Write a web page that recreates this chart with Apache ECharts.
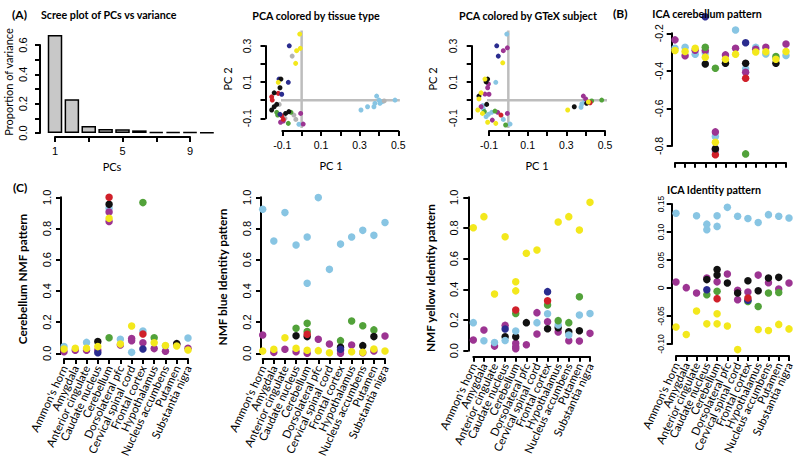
<!DOCTYPE html>
<html><head><meta charset="utf-8">
<script src="https://cdn.jsdelivr.net/npm/echarts@6/dist/echarts.min.js"></script>
<style>html,body{margin:0;padding:0;background:#fff}#c{width:800px;height:457px}</style>
</head><body><div id="c"></div>
<script>
// ---------------- DATA ----------------
const tissues = ["Ammon's horn","Amygdala","Anterior cingulate","Caudate nucleus","Cerebellum","Dorsolateral pfc","Cervical spinal cord","Frontal cortex","Hypothalamus","Nucleus accumbens","Putamen","Substantia nigra"];

const screePC = [1,2,3,4,5,6,7,8,9,10];
const screeVar = [0.668,0.23,0.048,0.027,0.025,0.018,0.008,0.007,0.006,0.005];
const screeLabelled = [1,5,9];

// PCA colored by tissue type  [PC1, PC2]
const pcaT_yellow = [[-0.01,0.366],[-0.026,0.274],[-0.007,0.287],[-0.031,0.204],[-0.121,0.099]];
const pcaT_navy = [[-0.064,0.301],[-0.117,0.117],[-0.069,0.099],[-0.103,0.033],[-0.112,-0.078]];
const pcaT_gray = [[-0.049,0.244],[-0.116,-0.023],[-0.04,-0.082],[-0.086,-0.1],[-0.03,-0.106],[0.427,-0.004]];
const pcaT_black = [[-0.107,0.117],[-0.112,0.069],[-0.142,0.041],[-0.129,-0.023],[-0.142,-0.036],[-0.155,-0.054],[-0.083,-0.073],[-0.066,-0.063]];
const pcaT_red = [[-0.121,0.038],[-0.155,0.019],[-0.152,0.001],[-0.103,-0.086],[-0.095,-0.106]];
const pcaT_green = [[-0.129,-0.067],[-0.124,-0.082],[-0.055,-0.067],[-0.069,-0.128]];
const pcaT_purple = [[-0.005,-0.073],[-0.109,-0.122],[-0.095,-0.115],[0.008,-0.132]];
const pcaT_lightblue = [[-0.014,-0.133],[0.307,-0.054],[0.341,-0.036],[0.374,-0.036],[0.379,-0.017],[0.388,0.023],[0.4,0.001],[0.405,-0.017],[0.417,-0.008],[0.483,0.001]];

// PCA colored by GTeX subject
const pcaG_lightblue = [[-0.008,0.366],[-0.065,0.099],[-0.133,-0.03],[-0.129,-0.049],[-0.103,-0.078],[-0.086,-0.067],[-0.115,-0.091],[-0.026,-0.106],[0.009,-0.132],[0.376,-0.039],[0.38,-0.021],[0.395,-0.008]];
const pcaG_navy = [[-0.06,0.301],[-0.052,0.244]];
const pcaG_purple = [[-0.005,0.29],[-0.026,0.274],[-0.103,0.09],[-0.107,0.069],[-0.121,0.034],[-0.1,0.033],[-0.141,-0.036],[-0.055,-0.067],[-0.005,-0.073],[-0.083,-0.11],[0.388,0.023],[0.4,0.007]];
const pcaG_yellow = [[-0.029,0.207],[-0.121,0.117],[-0.141,0.041],[-0.152,0.007],[-0.158,-0.054],[-0.134,-0.073],[-0.107,-0.122],[-0.065,-0.128],[0.307,-0.054],[0.414,-0.01]];
const pcaG_black = [[-0.107,0.117],[-0.115,0.102],[-0.152,0.023],[-0.112,-0.023],[0.341,-0.036],[0.405,-0.017]];
const pcaG_green = [[-0.124,-0.063],[-0.069,-0.06],[-0.014,-0.137],[0.431,-0.004],[0.483,0.001]];
const pcaG_red = [[-0.038,-0.082],[0.423,-0.014]];

// extents of the grey reference lines (plot region, data units)
const pcaT_hline = [-0.187, 0.508];
const pcaT_vline = [-0.153, 0.386];
const pcaG_hline = [-0.19, 0.515];
const pcaG_vline = [-0.153, 0.386];

// ICA cerebellum pattern  [tissue index (1-based), value]
const icaC_lightblue = [[1,-0.28],[2,-0.274],[3,-0.311],[4,-0.303],[5,-0.749],[5,-0.83],[7,-0.182],[8,-0.389],[9,-0.275],[10,-0.31],[11,-0.33],[12,-0.318]];
const icaC_purple = [[1,-0.235],[2,-0.319],[3,-0.29],[4,-0.292],[5,-0.725],[5,-0.819],[6,-0.315],[7,-0.28],[8,-0.407],[9,-0.285],[10,-0.274],[12,-0.257]];
const icaC_green = [[4,-0.274],[5,-0.386],[8,-0.842],[11,-0.324]];
const icaC_navy = [[4,-0.112],[8,-0.25]];
const icaC_red = [[5,-0.846],[8,-0.439]];
const icaC_black = [[4,-0.363],[5,-0.814],[6,-0.359],[8,-0.359],[11,-0.359]];
const icaC_yellow = [[1,-0.292],[2,-0.297],[3,-0.28],[4,-0.327],[5,-0.78],[6,-0.338],[7,-0.311],[9,-0.3],[10,-0.298],[11,-0.338],[12,-0.297]];

// ICA Identity pattern
const icaI_lightblue = [[1,0.1335],[3,0.129],[4,0.104],[4,0.114],[5,0.129],[5,0.11],[6,0.144],[7,0.128],[8,0.124],[9,0.117],[10,0.131],[11,0.128],[12,0.125]];
const icaI_purple = [[1,0.0107],[2,0.0006],[3,-0.009],[4,0.018],[5,0.011],[6,0.025],[7,-0.004],[7,-0.021],[8,-0.007],[9,0.023],[10,0.0095],[11,-0.002],[12,0.009]];
const icaI_black = [[4,0.015],[5,0.033],[5,0.023],[6,0.009],[7,-0.009],[8,0.013],[9,-0.005],[10,0.018],[11,0.019]];
const icaI_navy = [[4,-0.003],[8,-0.022]];
const icaI_green = [[4,-0.012],[5,-0.006],[8,-0.024],[9,-0.033],[10,-0.009],[11,-0.008]];
const icaI_red = [[5,-0.019],[8,-0.018]];
const icaI_yellow = [[1,-0.0696],[2,-0.083],[3,-0.041],[4,-0.064],[5,-0.046],[5,-0.064],[6,-0.068],[7,-0.11],[9,-0.074],[10,-0.076],[11,-0.065],[12,-0.073]];

// Cerebellum NMF pattern
const nmfC_lightblue = [[1,0.043],[3,0.07],[5,0.93],[6,0.09],[7,0.006],[8,0.143],[10,0.047],[12,0.098]];
const nmfC_purple = [[1,0.01],[2,0.02],[3,0.02],[4,0.02],[5,0.905],[5,0.845],[6,0.053],[7,0.095],[7,0.08],[8,0.068],[9,0.03],[10,0.013],[11,0.058],[12,0.032]];
const nmfC_green = [[5,0.1],[8,0.966],[9,0.1]];
const nmfC_black = [[4,0.075],[5,0.955],[11,0.062]];
const nmfC_navy = [[4,0.003],[8,0.028]];
const nmfC_red = [[5,1.0],[8,0.124]];
const nmfC_yellow = [[1,0.028],[2,0.032],[3,0.032],[4,0.043],[5,0.865],[6,0.06],[7,0.175],[9,0.068],[10,0.05],[11,0.047],[12,0.021]];

// NMF blue Identity pattern
const nmfB_lightblue = [[1,0.923],[2,0.72],[3,0.902],[4,0.694],[5,0.746],[5,0.449],[6,0.998],[7,0.538],[8,0.7],[9,0.746],[10,0.788],[11,0.756],[12,0.838]];
const nmfB_purple = [[1,0.117],[2,0.006],[3,0.026],[4,0.01],[5,0.0],[6,0.09],[7,0.06],[8,0.0],[8,0.017],[9,0.053],[10,0.003],[11,0.015],[12,0.111]];
const nmfB_green = [[4,0.16],[5,0.192],[5,0.14],[8,0.081],[9,0.207],[10,0.177],[11,0.15]];
const nmfB_black = [[4,0.113],[5,0.107],[8,0.038],[10,0.049],[11,0.107]];
const nmfB_navy = [[8,0.026]];
const nmfB_red = [[5,0.122]];
const nmfB_yellow = [[1,0.015],[2,0.026],[3,0.1],[4,0.032],[5,0.02],[6,0.017],[7,0.004],[9,0.01],[10,0.006],[11,0.028],[12,0.015]];

// NMF yellow Identity pattern
const nmfY_purple = [[1,0.07],[2,0.135],[3,0.03],[4,0.165],[5,0.048],[5,0.026],[5,0.013],[6,0.039],[7,0.248],[7,0.109],[8,0.189],[9,0.122],[10,0.065],[11,0.063],[12,0.113]];
const nmfY_black = [[4,0.091],[5,0.091],[6,0.183],[8,0.143],[9,0.15],[10,0.124],[11,0.13]];
const nmfY_lightblue = [[1,0.183],[2,0.065],[3,0.054],[4,0.067],[5,0.128],[7,0.183],[8,0.241],[9,0.167],[10,0.102],[11,0.233],[12,0.243]];
const nmfY_navy = [[4,0.141],[8,0.385]];
const nmfY_red = [[5,0.265],[8,0.326]];
const nmfY_green = [[5,0.243],[8,0.298],[9,0.196],[10,0.183],[11,0.352]];
const nmfY_yellow = [[1,0.802],[2,0.874],[3,0.37],[4,0.743],[5,0.45],[5,0.39],[6,0.635],[7,0.657],[9,0.839],[10,0.874],[11,0.787],[12,0.967]];

// ---------------- STYLE / LAYOUT ----------------
const COL = {lightblue:'#88c5e3', purple:'#9c3492', yellow:'#f3e81c', navy:'#2a2c8f', green:'#52a23a', red:'#d0202a', black:'#111111', gray:'#b3b3b3'};
const NUM_FONT = 'Liberation Sans';
const TXT_FONT = 'Lato';

const grids = [], xAxes = [], yAxes = [], series = [];

function axis(o) {
  const a = {
    type:o.cat ? 'category' : 'value', gridIndex:o.gi, offset:o.offset, position:o.pos,
    splitLine:{show:false},
    axisLine:{show:true, onZero:false, lineStyle:{color:'#000', width:2}},
    axisTick:{show:true, length:5, lineStyle:{color:'#000', width:2}},
    axisLabel:{show:o.labels !== false, formatter:o.fmt, rotate:o.rot || 0, margin:o.margin,
      fontSize:o.fs || 10.5, fontFamily:o.ff || NUM_FONT, color:'#000'}
  };
  if (o.cat) {
    a.data = o.cat; a.boundaryGap = false;
    a.axisLabel.interval = 0; a.axisTick.interval = 0;
  } else {
    a.min = o.min; a.max = o.max; a.interval = o.interval;
    a.axisLabel.showMinLabel = true; a.axisLabel.showMaxLabel = true;
  }
  return a;
}
function panel(g, xo, yo) {
  const gi = grids.length;
  grids.push({left:g.left, top:g.top, width:g.width, height:g.height, containLabel:false, outerBoundsMode:'none'});
  xAxes.push(axis(Object.assign({gi, pos:'bottom', offset:g.xOff}, xo)));
  yAxes.push(axis(Object.assign({gi, pos:'left', offset:g.yOff, rot:90}, yo)));
  return gi;
}
function scat(gi, data, color, size, isCat) {
  const d = isCat ? data.map(([t, v]) => [t - 1, v]) : data;
  series.push({type:'scatter', xAxisIndex:gi, yAxisIndex:gi, data:d, symbol:'circle', symbolSize:size,
    itemStyle:{color, opacity:1}, clip:false, silent:true});
}
function refLine(gi, data) {
  series.push({type:'line', xAxisIndex:gi, yAxisIndex:gi, data, symbol:'none', clip:false, silent:true,
    lineStyle:{color:'#bdbdbd', width:2.5}, z:1});
}
const oddTenth = v => { const k = Math.round(v*10); return (Math.abs(k) % 2 === 1) ? (k/10).toFixed(1) : ''; };
const evenTenth = v => { const k = Math.round(v*10); return (k % 2 === 0) ? (k/10).toFixed(1) : ''; };
const catX = (m, show) => ({cat:tissues, rot:65, margin:m, ff:TXT_FONT, fs:11.3, labels:show !== false});
const DOT = 7.5, PDOT = 5;

// Scree
const gS = panel({left:55, top:45, width:135, height:88, xOff:4, yOff:15},
  {min:1, max:9, interval:2, fmt:v => screeLabelled.includes(Math.round(v)) ? String(Math.round(v)) : '', margin:8, fs:11},
  {min:0, max:0.6, interval:0.1, fmt:evenTenth, margin:12, fs:11});
series.push({type:'bar', xAxisIndex:gS, yAxisIndex:gS, data:screePC.map((p,i)=>[p, screeVar[i]]), barWidth:14.5,
  clip:false, silent:true, itemStyle:{color:'#c8c8c8', borderColor:'#000', borderWidth:1.5}});

// PCA tissue
const gT = panel({left:282.3, top:46, width:116, height:72.3, xOff:12.7, yOff:16.8},
  {min:-0.1, max:0.5, interval:0.1, fmt:oddTenth, margin:8},
  {min:-0.1, max:0.3, interval:0.1, fmt:oddTenth, margin:13});
refLine(gT, [[pcaT_hline[0],0],[pcaT_hline[1],0]]);
refLine(gT, [[0,pcaT_vline[0]],[0,pcaT_vline[1]]]);
[[pcaT_lightblue,'lightblue'],[pcaT_gray,'gray'],[pcaT_purple,'purple'],[pcaT_green,'green'],[pcaT_red,'red'],[pcaT_navy,'navy'],[pcaT_black,'black'],[pcaT_yellow,'yellow']]
  .forEach(([d,c]) => scat(gT, d, COL[c], PDOT, false));

// PCA GTeX
const gG = panel({left:489, top:46, width:116, height:72.3, xOff:12.7, yOff:17.3},
  {min:-0.1, max:0.5, interval:0.1, fmt:oddTenth, margin:8},
  {min:-0.1, max:0.3, interval:0.1, fmt:oddTenth, margin:13});
refLine(gG, [[pcaG_hline[0],0],[pcaG_hline[1],0]]);
refLine(gG, [[0,pcaG_vline[0]],[0,pcaG_vline[1]]]);
[[pcaG_lightblue,'lightblue'],[pcaG_purple,'purple'],[pcaG_navy,'navy'],[pcaG_green,'green'],[pcaG_red,'red'],[pcaG_black,'black'],[pcaG_yellow,'yellow']]
  .forEach(([d,c]) => scat(gG, d, COL[c], PDOT, false));

// ICA cerebellum
const gIC = panel({left:675, top:33.3, width:111, height:112.7, xOff:16.7, yOff:3.3},
  catX(7, false),
  {min:-0.8, max:-0.2, interval:0.2, fmt:v => v.toFixed(1), margin:7, fs:10.5});
[[icaC_lightblue,'lightblue'],[icaC_purple,'purple'],[icaC_green,'green'],[icaC_navy,'navy'],[icaC_red,'red'],[icaC_black,'black'],[icaC_yellow,'yellow']]
  .forEach(([d,c]) => scat(gIC, d, COL[c], DOT, true));

// ICA identity
const gII = panel({left:676, top:204, width:113, height:140, xOff:12, yOff:4.3},
  catX(7),
  {min:-0.1, max:0.15, interval:0.05, fmt:v => { const k = Math.round(v*100); return k === 0 ? '0' : (k/100).toFixed(2); }, margin:6, fs:8.5});
[[icaI_lightblue,'lightblue'],[icaI_purple,'purple'],[icaI_green,'green'],[icaI_navy,'navy'],[icaI_red,'red'],[icaI_black,'black'],[icaI_yellow,'yellow']]
  .forEach(([d,c]) => scat(gII, d, COL[c], DOT, true));

// NMF cerebellum
const gNC = panel({left:64, top:197.3, width:124, height:156, xOff:5.7, yOff:3},
  catX(7), {min:0, max:1, interval:0.2, fmt:v => v.toFixed(1), margin:9, fs:11});
[[nmfC_lightblue,'lightblue'],[nmfC_purple,'purple'],[nmfC_green,'green'],[nmfC_navy,'navy'],[nmfC_black,'black'],[nmfC_red,'red'],[nmfC_yellow,'yellow']]
  .forEach(([d,c]) => scat(gNC, d, COL[c], DOT, true));

// NMF blue identity
const gNB = panel({left:262.7, top:197.3, width:122.3, height:156, xOff:5.7, yOff:1.7},
  catX(7), {min:0, max:1, interval:0.2, fmt:v => v.toFixed(1), margin:9, fs:11});
[[nmfB_lightblue,'lightblue'],[nmfB_purple,'purple'],[nmfB_green,'green'],[nmfB_black,'black'],[nmfB_navy,'navy'],[nmfB_red,'red'],[nmfB_yellow,'yellow']]
  .forEach(([d,c]) => scat(gNB, d, COL[c], DOT, true));

// NMF yellow identity
const gNY = panel({left:473.3, top:197.3, width:116.7, height:153.4, xOff:6, yOff:5},
  catX(7), {min:0, max:1, interval:0.2, fmt:v => v.toFixed(1), margin:9, fs:11});
[[nmfY_yellow,'yellow'],[nmfY_purple,'purple'],[nmfY_black,'black'],[nmfY_lightblue,'lightblue'],[nmfY_green,'green'],[nmfY_red,'red'],[nmfY_navy,'navy']]
  .forEach(([d,c]) => scat(gNY, d, COL[c], DOT, true));

// ---------------- TEXT ----------------
function T(x, y, text, o) {
  o = o || {};
  return {type:'text', x, y, rotation:o.rot || 0, silent:true, z:100,
    style:{text, fill:'#000', font:(o.bold ? 'bold ' : '') + (o.fs || 11) + 'px ' + (o.ff || TXT_FONT),
      align:o.align || 'center', verticalAlign:'middle', textAlign:o.align || 'center', textVerticalAlign:'middle'}};
}
const R = Math.PI / 2;
const graphics = [
  T(12, 14, '(A)', {bold:true, fs:12, align:'left'}),
  T(41, 14, 'Scree plot of PCs vs variance', {bold:true, fs:10.7, align:'left'}),
  T(316, 15, 'PCA colored by tissue type', {bold:true, fs:10.7}),
  T(528, 15, 'PCA colored by GTeX subject', {bold:true, fs:10.7}),
  T(613, 13, '(B)', {bold:true, fs:12, align:'left'}),
  T(707, 13, 'ICA cerebellum pattern', {bold:true, fs:10.7}),
  T(714, 189, 'ICA Identity pattern', {bold:true, fs:10.7}),
  T(13, 187, '(C)', {bold:true, fs:12, align:'left'}),
  T(8, 82, 'Proportion of variance', {rot:R}),
  T(112, 166, 'PCs'),
  T(227, 79, 'PC 2', {rot:R}),
  T(432, 79, 'PC 2', {rot:R}),
  T(331, 165, 'PC 1'),
  T(537, 165, 'PC 1'),
  T(22, 279, 'Cerebellum NMF pattern', {rot:R, bold:true, fs:11.8}),
  T(222, 277, 'NMF blue Identity pattern', {rot:R, bold:true, fs:11.8}),
  T(430, 278, 'NMF yellow Identity pattern', {rot:R, bold:true, fs:11.8})
];

const chart = echarts.init(document.getElementById('c'), null, {renderer:'svg', width:800, height:457});
chart.setOption({
  animation:false,
  backgroundColor:'#fff',
  grid:grids, xAxis:xAxes, yAxis:yAxes, series,
  graphic:graphics
});
</script></body></html>
